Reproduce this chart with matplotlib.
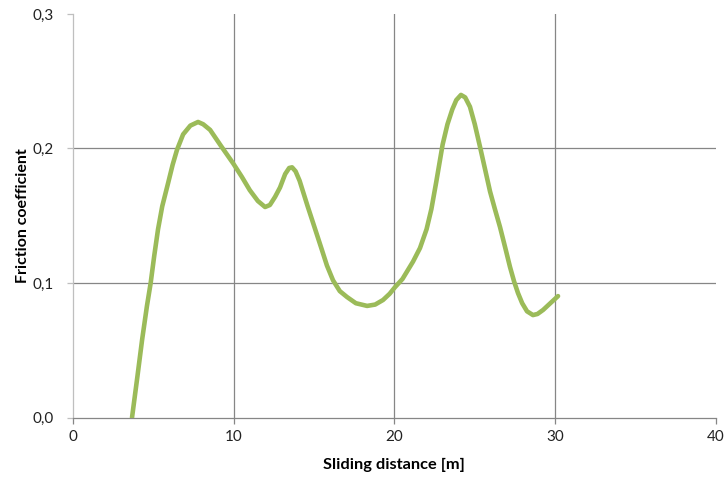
import matplotlib
matplotlib.use('Agg')
import matplotlib.pyplot as plt
from matplotlib.ticker import FuncFormatter

# Values
distance = [3.67, 4.0, 4.3, 4.6, 4.83, 5.05, 5.29, 5.55, 5.91, 6.2, 6.47, 6.85, 7.3,
            7.78, 8.1, 8.53, 9.2, 9.96, 10.5, 11.0, 11.5, 11.95, 12.25, 12.57, 12.88,
            13.2, 13.45, 13.63, 13.85, 14.1, 14.31, 14.6, 14.93, 15.49, 15.8, 16.18,
            16.6, 17.05, 17.6, 18.3, 18.8, 19.29, 19.7, 20.04, 20.5, 21.16, 21.59,
            22.0, 22.3, 22.6, 23.0, 23.3, 23.6, 23.85, 24.14, 24.4, 24.7, 25.0, 25.33,
            25.65, 25.95, 26.25, 26.57, 26.9, 27.19, 27.45, 27.69, 27.95, 28.25, 28.62,
            28.9, 29.25, 29.7, 30.18]
friction = [0.0, 0.03, 0.058, 0.083, 0.1, 0.12, 0.14, 0.157, 0.174, 0.188, 0.199,
            0.2105, 0.217, 0.2197, 0.218, 0.2138, 0.202, 0.189, 0.179, 0.169, 0.161,
            0.1565, 0.158, 0.164, 0.171, 0.181, 0.1855, 0.186, 0.183, 0.176, 0.168,
            0.157, 0.145, 0.1245, 0.113, 0.102, 0.094, 0.0896, 0.085, 0.083, 0.084,
            0.0874, 0.092, 0.097, 0.103, 0.116, 0.126, 0.14, 0.155, 0.175, 0.203,
            0.218, 0.229, 0.236, 0.2398, 0.238, 0.231, 0.218, 0.201, 0.184, 0.168,
            0.155, 0.1416, 0.126, 0.112, 0.101, 0.0925, 0.085, 0.079, 0.0762, 0.077,
            0.08, 0.085, 0.0903]

x_ticks = [0, 10, 20, 30, 40]
y_ticks = [0.0, 0.1, 0.2, 0.3]

plt.rcParams['font.family'] = ['Lato', 'DejaVu Sans']

fig = plt.figure(figsize=(7.26, 4.8), dpi=100)
ax = fig.add_axes([0.1006, 0.130, 0.8854, 0.841])

ax.plot(distance, friction, color='#9BBB59', linewidth=3.3,
        solid_capstyle='round', solid_joinstyle='round', zorder=3)

ax.set_xlim(0, 40)
ax.set_ylim(0, 0.3)
ax.set_xticks(x_ticks)
ax.set_yticks(y_ticks)
ax.yaxis.set_major_formatter(FuncFormatter(lambda v, p: f'{v:.1f}'.replace('.', ',')))

# gridlines at inner ticks only
for x in x_ticks[1:-1]:
    ax.axvline(x, color='#868686', linewidth=0.9, zorder=1)
for y in y_ticks[1:-1]:
    ax.axhline(y, color='#868686', linewidth=0.9, zorder=1)

for side in ['top', 'right']:
    ax.spines[side].set_visible(False)
ax.spines['left'].set_color('#BFBFBF')
ax.spines['bottom'].set_color('#868686')
ax.spines['left'].set_linewidth(0.9)
ax.spines['bottom'].set_linewidth(0.9)

ax.tick_params(axis='x', direction='out', length=4, width=0.9, color='#868686',
               labelsize=11, pad=5, labelcolor='#222222')
ax.tick_params(axis='y', direction='out', length=4, width=0.9, color='#BFBFBF',
               labelsize=11, pad=10, labelcolor='#222222')

ax.set_xlabel('Sliding distance [m]', fontsize=11.8, fontweight='bold', labelpad=10)
ax.set_ylabel('Friction coefficient', fontsize=11.5, fontweight='bold', labelpad=2)

fig.savefig('out.png', dpi=100)
